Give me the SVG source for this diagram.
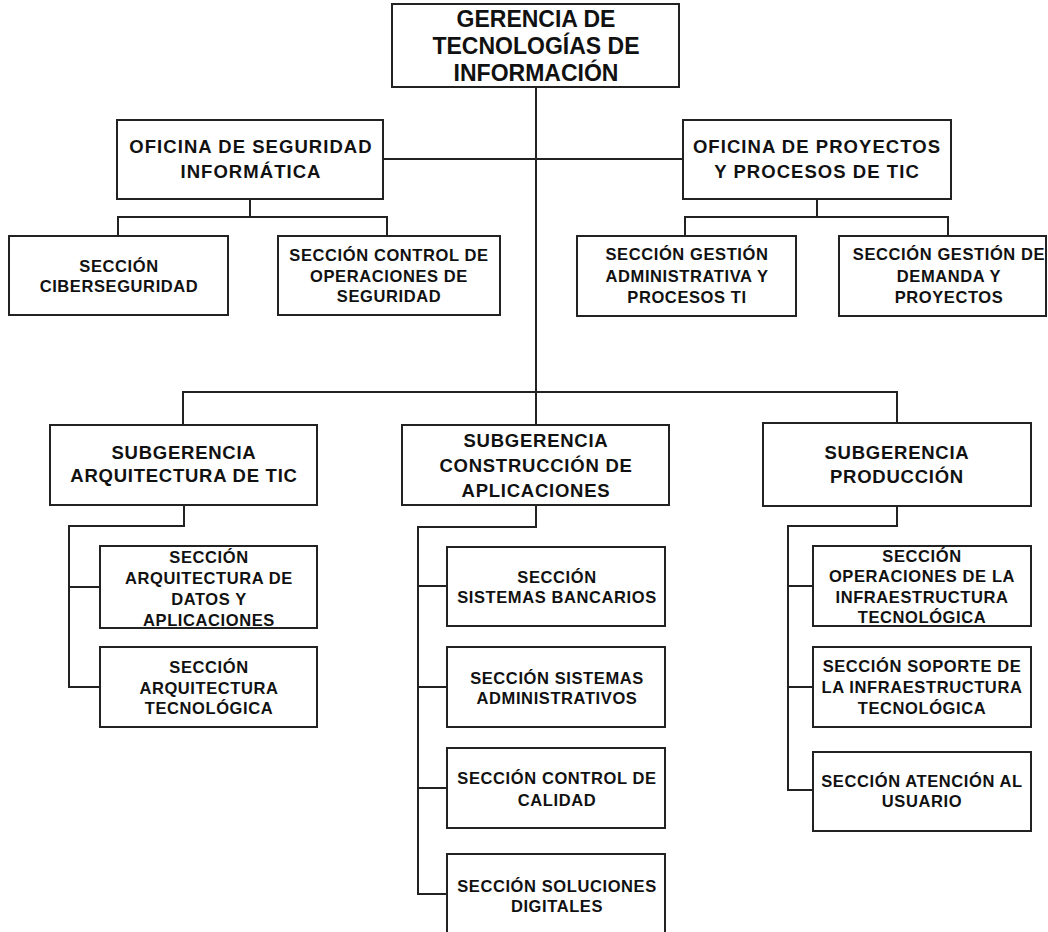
<svg xmlns="http://www.w3.org/2000/svg" width="1048" height="932" viewBox="0 0 1048 932">
  <style>
    .box { fill: #ffffff; stroke: #222222; stroke-width: 2; }
    .wire { fill: none; stroke: #222222; stroke-width: 2; }
    text { font-family: "Liberation Sans", Arial, sans-serif; font-weight: bold; fill: #111111; text-anchor: middle; }
    .t1 { font-size: 23px; }
    .t2 { font-size: 18.5px; letter-spacing: 1.05px; }
    .t3 { font-size: 18.5px; letter-spacing: 0.75px; }
    .t4 { font-size: 16.5px; letter-spacing: 0.6px; }
  </style>
  <rect width="1048" height="932" fill="#ffffff"/>

  <!-- connectors -->
  <g id="connectors">
    <path class="wire" d="M536 87 V425"/>
    <path class="wire" d="M383 159 H683"/>
    <path class="wire" d="M183 425 V392 H897 V423"/>
    <path class="wire" d="M250 199 V217"/>
    <path class="wire" d="M118 236 V217 H387 V236"/>
    <path class="wire" d="M817 199 V217"/>
    <path class="wire" d="M685 236 V217 H948 V236"/>
    <path class="wire" d="M184 505 V526 H69 V687 H100"/>
    <path class="wire" d="M69 587 H100"/>
    <path class="wire" d="M536 505 V527 H418 V894 H447"/>
    <path class="wire" d="M418 586 H447 M418 687 H447 M418 788 H447"/>
    <path class="wire" d="M897 506 V526 H788 V790 H813"/>
    <path class="wire" d="M788 586 H813 M788 687 H813"/>
  </g>

  <g id="gerencia">
    <rect class="box" x="392" y="4" width="287" height="83"/>
    <text class="t1" x="536" y="27">GERENCIA DE</text>
    <text class="t1" x="536" y="54">TECNOLOGÍAS DE</text>
    <text class="t1" x="536" y="81">INFORMACIÓN</text>
  </g>

  <g id="oficina-seguridad">
    <rect class="box" x="117" y="120" width="266" height="79"/>
    <text class="t2" x="251" y="153">OFICINA DE SEGURIDAD</text>
    <text class="t2" x="251" y="178">INFORMÁTICA</text>
  </g>

  <g id="oficina-proyectos">
    <rect class="box" x="683" y="120" width="268" height="79"/>
    <text class="t2" x="817" y="153">OFICINA DE PROYECTOS</text>
    <text class="t2" x="817" y="178">Y PROCESOS DE TIC</text>
  </g>

  <g id="sec-ciberseguridad">
    <rect class="box" x="9" y="236" width="219" height="79"/>
    <text class="t4" x="119" y="272">SECCIÓN</text>
    <text class="t4" x="119" y="292">CIBERSEGURIDAD</text>
  </g>

  <g id="sec-control-operaciones">
    <rect class="box" x="278" y="236" width="222" height="79"/>
    <text class="t4" x="389" y="261">SECCIÓN CONTROL DE</text>
    <text class="t4" x="389" y="282">OPERACIONES DE</text>
    <text class="t4" x="389" y="302">SEGURIDAD</text>
  </g>

  <g id="sec-gestion-administrativa">
    <rect class="box" x="577" y="236" width="219" height="80"/>
    <text class="t4" x="687" y="260">SECCIÓN GESTIÓN</text>
    <text class="t4" x="687" y="282">ADMINISTRATIVA Y</text>
    <text class="t4" x="687" y="303">PROCESOS TI</text>
  </g>

  <g id="sec-gestion-demanda">
    <rect class="box" x="839" y="236" width="207" height="80"/>
    <text class="t4" x="949" y="260">SECCIÓN GESTIÓN DE</text>
    <text class="t4" x="949" y="282">DEMANDA Y</text>
    <text class="t4" x="949" y="303">PROYECTOS</text>
  </g>

  <g id="sub-arquitectura">
    <rect class="box" x="50" y="425" width="267" height="80"/>
    <text class="t3" x="184" y="459">SUBGERENCIA</text>
    <text class="t3" x="184" y="482">ARQUITECTURA DE TIC</text>
  </g>

  <g id="sub-construccion">
    <rect class="box" x="402" y="425" width="267" height="80"/>
    <text class="t3" x="536" y="447">SUBGERENCIA</text>
    <text class="t3" x="536" y="472">CONSTRUCCIÓN DE</text>
    <text class="t3" x="536" y="497">APLICACIONES</text>
  </g>

  <g id="sub-produccion">
    <rect class="box" x="763" y="423" width="268" height="83"/>
    <text class="t3" x="897" y="459">SUBGERENCIA</text>
    <text class="t3" x="897" y="483">PRODUCCIÓN</text>
  </g>

  <g id="sec-arq-datos">
    <rect class="box" x="100" y="546" width="217" height="82"/>
    <text class="t4" x="209" y="563">SECCIÓN</text>
    <text class="t4" x="209" y="584">ARQUITECTURA DE</text>
    <text class="t4" x="209" y="605">DATOS Y</text>
    <text class="t4" x="209" y="626">APLICACIONES</text>
  </g>

  <g id="sec-arq-tecnologica">
    <rect class="box" x="100" y="647" width="217" height="80"/>
    <text class="t4" x="209" y="673">SECCIÓN</text>
    <text class="t4" x="209" y="694">ARQUITECTURA</text>
    <text class="t4" x="209" y="714">TECNOLÓGICA</text>
  </g>

  <g id="sec-bancarios">
    <rect class="box" x="447" y="547" width="218" height="79"/>
    <text class="t4" x="557" y="583">SECCIÓN</text>
    <text class="t4" x="557" y="603">SISTEMAS BANCARIOS</text>
  </g>

  <g id="sec-administrativos">
    <rect class="box" x="447" y="647" width="218" height="80"/>
    <text class="t4" x="557" y="684">SECCIÓN SISTEMAS</text>
    <text class="t4" x="557" y="704">ADMINISTRATIVOS</text>
  </g>

  <g id="sec-calidad">
    <rect class="box" x="447" y="748" width="218" height="80"/>
    <text class="t4" x="557" y="784">SECCIÓN CONTROL DE</text>
    <text class="t4" x="557" y="806">CALIDAD</text>
  </g>

  <g id="sec-soluciones">
    <rect class="box" x="447" y="854" width="218" height="100"/>
    <text class="t4" x="557" y="892">SECCIÓN SOLUCIONES</text>
    <text class="t4" x="557" y="912">DIGITALES</text>
  </g>

  <g id="sec-operaciones">
    <rect class="box" x="813" y="546" width="218" height="80"/>
    <text class="t4" x="922" y="562">SECCIÓN</text>
    <text class="t4" x="922" y="582">OPERACIONES DE LA</text>
    <text class="t4" x="922" y="603">INFRAESTRUCTURA</text>
    <text class="t4" x="922" y="623">TECNOLÓGICA</text>
  </g>

  <g id="sec-soporte">
    <rect class="box" x="813" y="647" width="218" height="80"/>
    <text class="t4" x="922" y="672">SECCIÓN SOPORTE DE</text>
    <text class="t4" x="922" y="693">LA INFRAESTRUCTURA</text>
    <text class="t4" x="922" y="714">TECNOLÓGICA</text>
  </g>

  <g id="sec-atencion">
    <rect class="box" x="813" y="752" width="218" height="79"/>
    <text class="t4" x="922" y="787">SECCIÓN ATENCIÓN AL</text>
    <text class="t4" x="922" y="807">USUARIO</text>
  </g>
</svg>
